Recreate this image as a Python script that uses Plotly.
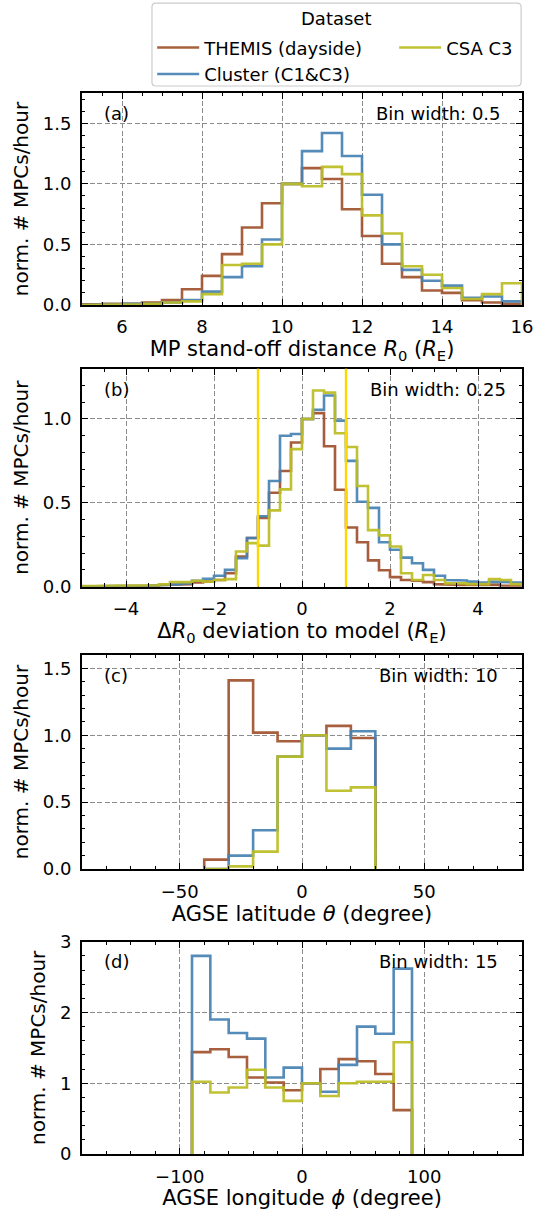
import numpy as np
import plotly.graph_objects as go

# ---------------- data ----------------
SERIES = ["THEMIS (dayside)", "Cluster (C1&C3)", "CSA C3"]
COLORS = ["#A0522D", "#4682B4", "#BCBD22"]

# (a) MP stand-off distance, bins of 0.5 from 5 to 16
A_START, A_WIDTH = 5.0, 0.5
THEMIS_A = [0.005, 0.01, 0.01, 0.02, 0.04, 0.13, 0.24, 0.42, 0.64, 0.84, 1.0,
            1.13, 1.04, 0.79, 0.57, 0.34, 0.23, 0.12, 0.10, 0.04, 0.02, 0.01]
CLUSTER_A = [0.0, 0.005, 0.01, 0.01, 0.02, 0.04, 0.11, 0.23, 0.32, 0.54, 1.0,
             1.27, 1.42, 1.23, 0.91, 0.50, 0.29, 0.20, 0.16, 0.06, 0.07, 0.03]
CSA_A = [0.0, 0.0, 0.005, 0.01, 0.02, 0.03, 0.09, 0.33, 0.34, 0.50, 1.0,
         0.98, 1.14, 1.08, 0.74, 0.59, 0.32, 0.25, 0.14, 0.05, 0.09, 0.18]

# (b) deviation to model, bins of 0.25 from -5 to 5
B_START, B_WIDTH = -5.0, 0.25
THEMIS_B = [0.003, 0.003, 0.003, 0.004, 0.004, 0.005, 0.006, 0.01, 0.01, 0.014,
            0.025, 0.03, 0.04, 0.08, 0.18, 0.29, 0.41, 0.56, 0.69, 0.86,
            1.0, 1.035, 0.837, 0.578, 0.353, 0.265, 0.157, 0.098, 0.057, 0.04,
            0.035, 0.027, 0.015, 0.012, 0.01, 0.01, 0.008, 0.012, 0.006, 0.005]
CLUSTER_B = [0.002, 0.002, 0.003, 0.003, 0.004, 0.005, 0.007, 0.01, 0.014, 0.02,
             0.035, 0.047, 0.065, 0.10, 0.17, 0.29, 0.42, 0.63, 0.90, 0.91,
             1.0, 1.055, 1.14, 0.99, 0.75, 0.506, 0.47, 0.265, 0.22, 0.173,
             0.14, 0.10, 0.065, 0.04, 0.037, 0.03, 0.025, 0.03, 0.027, 0.025]
CSA_B = [0.004, 0.004, 0.004, 0.005, 0.005, 0.006, 0.008, 0.014, 0.027, 0.027,
         0.035, 0.03, 0.04, 0.045, 0.21, 0.26, 0.245, 0.455, 0.58, 0.82,
         1.0, 1.17, 1.157, 0.915, 0.833, 0.60, 0.337, 0.306, 0.24, 0.08,
         0.04, 0.07, 0.04, 0.02, 0.02, 0.015, 0.015, 0.045, 0.04, 0.015]
MODEL_LIMITS = [-1, 1]

# (c) AGSE latitude, bins of 10 from -40 to 30
C_START, C_WIDTH = -40.0, 10.0
THEMIS_C = [0.07, 1.41, 1.02, 0.955, 1.0, 1.07, 0.98]
CLUSTER_C = [0.0, 0.10, 0.29, 0.84, 1.0, 0.90, 1.03]
CSA_C = [0.0, 0.02, 0.13, 0.84, 1.0, 0.585, 0.61]

# (d) AGSE longitude, bins of 15 from -90 to 90
D_START, D_WIDTH = -90.0, 15.0
THEMIS_D = [1.44, 1.48, 1.37, 1.08, 1.01, 0.90, 1.0, 1.20, 1.34, 1.31, 1.13, 0.62]
CLUSTER_D = [2.80, 1.90, 1.71, 1.63, 1.08, 1.22, 1.0, 0.88, 1.26, 1.80, 1.70, 2.62]
CSA_D = [1.02, 0.87, 0.94, 1.19, 0.94, 0.75, 1.0, 0.82, 1.0, 1.02, 1.02, 1.58]

PANELS = [
    dict(tag="(a)", bw="Bin width: 0.5", start=A_START, width=A_WIDTH,
         data=[THEMIS_A, CLUSTER_A, CSA_A],
         xr=[5, 16], xd=2, xm=0.5, yr=[0, 1.75], yd=0.5, ym=0.1, yf=".1f",
         xt="MP stand-off distance <i>R</i><sub>0</sub> (<i>R</i><sub>E</sub>)",
         dom=[0.8002, 1.0], bwx=0.957),
    dict(tag="(b)", bw="Bin width: 0.25", start=B_START, width=B_WIDTH,
         data=[THEMIS_B, CLUSTER_B, CSA_B],
         xr=[-5, 5], xd=2, xm=0.5, yr=[0, 1.3], yd=0.5, ym=0.1, yf=".1f",
         xt="Δ<i>R</i><sub>0</sub> deviation to model (<i>R</i><sub>E</sub>)",
         dom=[0.5347, 0.7402], bwx=0.968),
    dict(tag="(c)", bw="Bin width: 10", start=C_START, width=C_WIDTH,
         data=[THEMIS_C, CLUSTER_C, CSA_C],
         xr=[-90, 90], xd=50, xm=10, yr=[0, 1.6], yd=0.5, ym=0.1, yf=".1f",
         xt="AGSE latitude <i>θ</i> (degree)",
         dom=[0.2686, 0.4703], bwx=0.95),
    dict(tag="(d)", bw="Bin width: 15", start=D_START, width=D_WIDTH,
         data=[THEMIS_D, CLUSTER_D, CSA_D],
         xr=[-180, 180], xd=100, xm=20, yr=[0, 3], yd=1, ym=0.2, yf="d",
         xt="AGSE longitude <i>ϕ</i> (degree)",
         dom=[0.0, 0.2001], bwx=0.95),
]

FONT = "DejaVu Sans"
TICK_FS = 18
XLABEL_FS = 21
YLABEL_FS = 20
TEXT_FS = 18
LEGEND_FS = 18

fig = go.Figure()
layout = {}
annotations = []
shapes = []

for p_i, p in enumerate(PANELS):
    n = p_i + 1
    xa = "x" if n == 1 else f"x{n}"
    ya = "y" if n == 1 else f"y{n}"
    for s_i, vals in enumerate(p["data"]):
        vals = np.asarray(vals, dtype=float)
        edges = p["start"] + p["width"] * np.arange(len(vals) + 1)
        xs = np.repeat(edges, 2)
        ys = np.concatenate([[0.0], np.repeat(vals, 2), [0.0]])
        legend_name = "legend2" if s_i == 2 else "legend"
        fig.add_trace(go.Scatter(
            x=xs, y=ys, mode="lines", name=SERIES[s_i],
            line=dict(color=COLORS[s_i], width=2.6),
            opacity=0.92, xaxis=xa, yaxis=ya,
            showlegend=(n == 1), legend=legend_name, hoverinfo="skip"))
    common = dict(
        showline=True, linecolor="black", linewidth=1.8, mirror="allticks",
        ticks="inside", ticklen=6, tickwidth=1.3, tickcolor="black",
        showgrid=True, gridcolor="#8c8c8c", gridwidth=1.1, griddash="5px,2.5px",
        zeroline=False, tickfont=dict(family=FONT, size=TICK_FS, color="black"),
        ticklabelstandoff=5, automargin=False, ticklabeloverflow="allow",
    )
    layout["xaxis" if n == 1 else f"xaxis{n}"] = dict(
        common, domain=[0, 1], anchor=ya, range=p["xr"], tick0=0, dtick=p["xd"],
        minor=dict(dtick=p["xm"], tick0=0, ticks="inside", ticklen=3.5,
                   tickwidth=1.1, tickcolor="black", showgrid=False),
        title=dict(text=p["xt"], font=dict(family=FONT, size=XLABEL_FS, color="black"),
                   standoff=5),
    )
    layout["yaxis" if n == 1 else f"yaxis{n}"] = dict(
        common, domain=p["dom"], anchor=xa, range=p["yr"], tick0=0, dtick=p["yd"],
        tickformat=p["yf"],
        minor=dict(dtick=p["ym"], tick0=0, ticks="inside", ticklen=3.5,
                   tickwidth=1.1, tickcolor="black", showgrid=False),
        title=dict(text="norm. # MPCs/hour",
                   font=dict(family=FONT, size=YLABEL_FS, color="black"),
                   standoff=9),
    )
    annotations.append(dict(
        text=p["tag"], xref=f"{xa} domain", yref=f"{ya} domain", x=0.045, y=0.905,
        xanchor="left", yanchor="middle", showarrow=False,
        font=dict(family=FONT, size=TEXT_FS, color="black")))
    annotations.append(dict(
        text=p["bw"], xref=f"{xa} domain", yref=f"{ya} domain", x=p["bwx"], y=0.905,
        xanchor="right", yanchor="middle", showarrow=False,
        font=dict(family=FONT, size=TEXT_FS, color="black")))

# model limits in panel (b)
for lim in MODEL_LIMITS:
    shapes.append(dict(type="line", xref="x2", yref="y2 domain", x0=lim, x1=lim,
                       y0=0, y1=1, line=dict(color="#FFD700", width=2.4),
                       layer="above"))

# legend title + frame with rounded corners
annotations.append(dict(
    text="Dataset", xref="paper", yref="paper", x=0.579, y=1.0698,
    xanchor="center", yanchor="middle", showarrow=False,
    font=dict(family=FONT, size=LEGEND_FS, color="black")))

bx0, bx1, by0, by1 = 0.159, 0.998, 1.0066, 1.0848
rx, ry = 4 / 440, 4 / 1061
frame = (f"M{bx0+rx},{by0} L{bx1-rx},{by0} Q{bx1},{by0} {bx1},{by0+ry} "
         f"L{bx1},{by1-ry} Q{bx1},{by1} {bx1-rx},{by1} "
         f"L{bx0+rx},{by1} Q{bx0},{by1} {bx0},{by1-ry} "
         f"L{bx0},{by0+ry} Q{bx0},{by0} {bx0+rx},{by0} Z")
shapes.append(dict(type="path", xref="paper", yref="paper", path=frame,
                   line=dict(color="#cccccc", width=1.2),
                   fillcolor="rgba(0,0,0,0)", layer="above"))

legend_common = dict(
    bgcolor="rgba(0,0,0,0)", borderwidth=0,
    font=dict(family=FONT, size=LEGEND_FS, color="black"),
    orientation="v", xanchor="left", yanchor="top", itemwidth=42,
    tracegroupgap=0)

layout["legend"] = dict(legend_common, x=0.1595, y=1.060)
layout["legend2"] = dict(legend_common, x=0.7095, y=1.060)

fig.update_layout(
    **layout,
    annotations=annotations,
    shapes=shapes,
    width=533, height=1212,
    margin=dict(l=82, r=11, t=93, b=58, autoexpand=False),
    paper_bgcolor="white", plot_bgcolor="white",
    font=dict(family=FONT, color="black"),
    showlegend=True,
)

fig.write_html("out.html", config={"displayModeBar": False},
               post_script="document.body.style.margin='0';")
